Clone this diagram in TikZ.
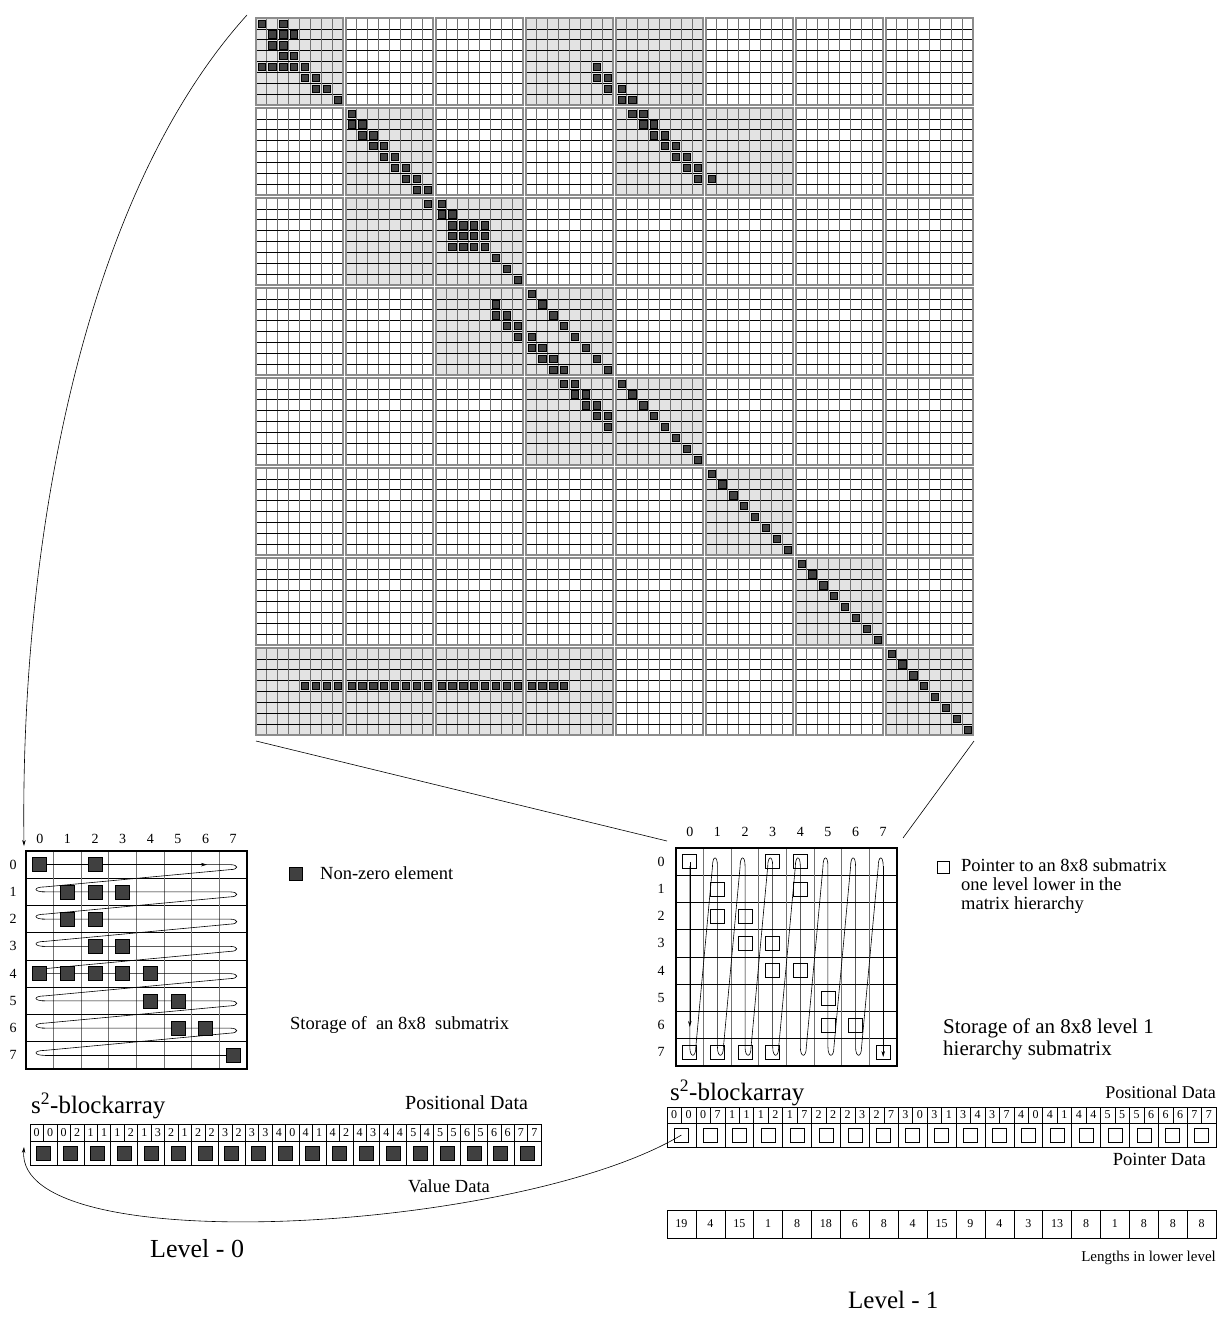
\documentclass[tikz,border=0pt]{standalone}
\usepackage{fontspec}
\setmainfont{Liberation Serif}
\usetikzlibrary{arrows.meta}

\begin{document}
\begin{tikzpicture}[x=1pt,y=-1pt,
	hline/.style={black, line width=0.6pt},
	vline/.style={black!55, line width=0.9pt},
	blockframe/.style={black!45, line width=1.5pt},
	usedblock/.style={fill=black!11},
	nzbig/.style={fill=black!75, draw=black, line width=0.5pt},
	nz/.style={fill=black!75, draw=black, line width=0.7pt},
	ptrsq/.style={draw=black, line width=0.7pt, minimum size=14pt, inner sep=0pt},
	scanpath/.style={black, line width=0.6pt},
	arr/.style={-{Stealth[length=6pt,width=3.5pt]}},
	idx/.style={font=\fontsize{14}{16}\selectfont, inner sep=0pt},
	digit/.style={font=\fontsize{12}{14}\selectfont, inner sep=0pt},
	note/.style={font=\fontsize{18.5}{19}\selectfont, align=left, inner sep=0pt},
	datalbl/.style={font=\fontsize{18.5}{20}\selectfont, inner sep=0pt},
	bigtext/.style={font=\fontsize{25}{28}\selectfont, inner sep=0pt}]
	\useasboundingbox (0,0) rectangle (1222,1320);

	%draw the 64x64 matrix: used blocks
	\foreach \bi/\bj in {0/0,0/3,0/4,1/1,1/4,1/5,2/1,2/2,3/2,3/3,4/3,4/4,5/5,6/6,7/0,7/1,7/2,7/3,7/7}
		\fill[usedblock] ({256+90*\bj},{18+90*\bi}) rectangle +(87,87);
	%draw block grids
	\foreach \bi in {0,...,7}
		\foreach \bj in {0,...,7} {
			\foreach \k in {1,...,7} {
				\draw[hline] ({256+90*\bj},{18+90*\bi+10.875*\k}) -- +(87,0);
				\draw[vline] ({256+90*\bj+10.875*\k},{18+90*\bi}) -- +(0,87);
			}
			\draw[blockframe] ({256+90*\bj},{18+90*\bi}) rectangle +(87,87);
		}
	%draw non-zero elements
	\foreach \r/\c in {0/0,0/2,1/1,1/2,1/3,2/1,2/2,3/2,3/3,4/0,4/1,4/2,4/3,4/4,5/4,5/5,6/5,6/6,7/7,
		4/30,5/30,5/31,6/31,6/32,7/32,7/33,
		8/8,9/8,9/9,10/9,10/10,11/10,11/11,12/11,12/12,13/12,13/13,14/13,14/14,15/14,15/15,
		8/33,8/34,9/34,9/35,10/35,10/36,11/36,11/37,12/37,12/38,13/38,13/39,14/39,14/40,
		16/15,16/16,17/16,17/17,21/21,22/22,23/23,
		24/24,25/21,25/25,26/21,26/22,26/26,27/22,27/23,27/27,28/23,28/24,28/28,
		29/24,29/25,29/29,30/25,30/26,30/30,31/26,31/27,31/31,
		32/27,32/28,32/32,33/28,33/29,33/33,34/29,34/30,34/34,35/30,35/31,35/35,
		36/31,36/36,37/37,38/38,39/39}
		\filldraw[nzbig] ({256+90*int(\c/8)+10.875*(mod(\c,8)+0.5)-3.6},{18+90*int(\r/8)+10.875*(mod(\r,8)+0.5)-3.6}) rectangle +(7.2,7.2);
	\foreach \r in {18,19,20}
		\foreach \c in {17,...,20}
			\filldraw[nzbig] ({436+10.875*(\c-16+0.5)-3.6},{198+10.875*(\r-16+0.5)-3.6}) rectangle +(7.2,7.2);
	\foreach \r in {40,...,63}
		\filldraw[nzbig] ({256+90*int(\r/8)+10.875*(mod(\r,8)+0.5)-3.6},{18+90*int(\r/8)+10.875*(mod(\r,8)+0.5)-3.6}) rectangle +(7.2,7.2);
	\foreach \c in {4,...,27}
		\filldraw[nzbig] ({256+90*int(\c/8)+10.875*(mod(\c,8)+0.5)-3.6},{648+10.875*3.5-3.6}) rectangle +(7.2,7.2);

	%zoom lines
	\coordinate (bigtl) at (247,15);
	\coordinate (bigbl) at (256,741);
	\coordinate (bigbr) at (974,741);
	\coordinate (lmtop) at (24,846);
	\coordinate (rmtl) at (667,841);
	\coordinate (rmtr) at (903,838);
	\draw[arr, line width=0.6pt] (bigtl) .. controls (80,200) and (20,550) .. (lmtop);
	\draw[line width=0.6pt] (bigbl) -- (rmtl);
	\draw[line width=0.6pt] (bigbr) -- (rmtr);

	%draw level 0 submatrix
	\foreach \k in {1,...,7} {
		\draw[hline] (26,{851+27.25*\k}) -- (247,{851+27.25*\k});
		\draw[vline] ({26+27.625*\k},851) -- ({26+27.625*\k},1069);
	}
	\draw[line width=1.8pt] (26,851) rectangle (247,1069);
	\foreach \k in {0,...,7} {
		\node[idx] (lcol\k) at ({26+27.625*(\k+0.5)},839) {\k};
		\node[idx] (lrow\k) at (13,{851+27.25*(\k+0.5)}) {\k};
	}
	%row-wise scan
	\foreach \r in {0,...,6} {
		\pgfmathsetmacro\ya{851+27.25*(\r+0.5)}
		\pgfmathsetmacro\yb{851+27.25*(\r+1.5)}
		\draw[scanpath] (42,\ya) -- (230,\ya) .. controls (239,\ya) and (239,{\ya+5}) .. (230,{\ya+5})
			-- (45,{\yb-5}) .. controls (33,{\yb-5}) and (33,\yb) .. (45,\yb);
	}
	\draw[scanpath] (45,{851+27.25*7.5}) -- (233,{851+27.25*7.5});
	\draw[scanpath, arr] (40,{851+27.25*0.5}) -- (207,{851+27.25*0.5});
	\foreach \r/\c in {0/0,0/2,1/1,1/2,1/3,2/1,2/2,3/2,3/3,4/0,4/1,4/2,4/3,4/4,5/4,5/5,6/5,6/6,7/7}
		\filldraw[nz] ({26+27.625*(\c+0.5)-7},{851+27.25*(\r+0.5)-7}) rectangle +(14,14);
	%legend
	\filldraw[nz] (289,867) rectangle +(13,13);
	\node[note, anchor=west] (nzlegend) at (320,873.5) {Non-zero element};
	\node[note, anchor=west] (lcaption) at (290,1025) {Storage of~~an 8x8~~submatrix};

	%draw level 1 submatrix
	\foreach \k in {1,...,7} {
		\draw[hline] (676,{848+27.25*\k}) -- (897,{848+27.25*\k});
		\draw[vline] ({676+27.625*\k},848) -- ({676+27.625*\k},1066);
	}
	\draw[line width=1.8pt] (676,848) rectangle (897,1066);
	\foreach \k in {0,...,7} {
		\node[idx] (rcol\k) at ({676+27.625*(\k+0.5)},832) {\k};
		\node[idx] (rrow\k) at (661,{848+27.25*(\k+0.5)}) {\k};
	}
	%column-wise scan
	\foreach \c in {0,...,6} {
		\pgfmathsetmacro\xa{676+27.625*(\c+0.5)}
		\pgfmathsetmacro\xb{676+27.625*(\c+1.5)}
		\draw[scanpath] (\xa,866) -- (\xa,1047) .. controls (\xa,1058) and ({\xa+6},1058) .. ({\xa+6},1047)
			-- ({\xb-5},867) .. controls ({\xb-5},855) and (\xb,855) .. (\xb,866);
	}
	\draw[scanpath, arr] ({676+27.625*0.5},862) -- ({676+27.625*0.5},1027);
	\draw[scanpath, arr] ({676+27.625*7.5},866) -- ({676+27.625*7.5},1057);
	\foreach \r/\c in {0/0,0/3,0/4,1/1,1/4,2/1,2/2,3/2,3/3,4/3,4/4,5/5,6/5,6/6,7/0,7/1,7/2,7/3,7/7}
		\draw[line width=0.7pt] ({676+27.625*(\c+0.5)-7},{848+27.25*(\r+0.5)-7}) rectangle +(14,14);
	%legend
	\draw[line width=0.7pt] (937,861) rectangle +(12,12);
	\node[note, anchor=north west] (ptrlegend) at (961,858) {Pointer to an 8x8 submatrix\\one level lower in the\\matrix hierarchy};
	\node[note, anchor=north west, font=\fontsize{21}{21}\selectfont] (rcaption) at (943,1019) {Storage of an 8x8 level 1\\hierarchy submatrix};

	%level 0 blockarray
	\node[bigtext, anchor=west] (lbatitle) at (31,1106) {s\textsuperscript{2}-blockarray};
	\node[datalbl, anchor=west, font=\fontsize{20}{22}\selectfont] (lpos) at (405,1103) {Positional Data};
	\draw[line width=0.6pt] (30,1124) rectangle (541,1165);
	\draw[line width=0.6pt] (30,1141) -- (541,1141);
	\foreach \a/\b [count=\i from 0] in {0/0,0/2,1/1,1/2,1/3,2/1,2/2,3/2,3/3,4/0,4/1,4/2,4/3,4/4,5/4,5/5,6/5,6/6,7/7} {
		\pgfmathsetmacro\xl{30+26.9*\i}
		\draw[line width=0.6pt] (\xl,1124) -- (\xl,1165);
		\draw[line width=0.5pt] ({\xl+13.45},1124) -- ({\xl+13.45},1141);
		\node[digit] (lpa\i) at ({\xl+6.7},1132.5) {\a};
		\node[digit] (lpb\i) at ({\xl+20.2},1132.5) {\b};
		\filldraw[nz] ({\xl+6.45},1146) rectangle +(14,14);
	}
	\node[datalbl, anchor=west] (lval) at (408,1186) {Value Data};
	\node[bigtext, anchor=west, font=\fontsize{26}{28}\selectfont] (lev0) at (150,1249) {Level - 0};

	%level 1 blockarray
	\node[bigtext, anchor=west] (rbatitle) at (670,1093) {s\textsuperscript{2}-blockarray};
	\node[datalbl, anchor=east, font=\fontsize{18}{20}\selectfont] (rpos) at (1216,1092) {Positional Data};
	\draw[line width=0.6pt] (667,1107) rectangle (1216,1147);
	\draw[line width=0.6pt] (667,1123) -- (1216,1123);
	\foreach \a/\b [count=\i from 0] in {0/0,0/7,1/1,1/2,1/7,2/2,2/3,2/7,3/0,3/1,3/4,3/7,4/0,4/1,4/4,5/5,5/6,6/6,7/7} {
		\pgfmathsetmacro\xl{667+28.9*\i}
		\draw[line width=0.6pt] (\xl,1107) -- (\xl,1147);
		\draw[line width=0.5pt] ({\xl+14.45},1107) -- ({\xl+14.45},1123);
		\node[digit] (rpa\i) at ({\xl+7.2},1115) {\a};
		\node[digit] (rpb\i) at ({\xl+21.7},1115) {\b};
		\node[ptrsq] (ptr\i) at ({\xl+14.45},1135) {};
	}
	\node[datalbl, anchor=east] (rptr) at (1206,1159) {Pointer Data};
	%lengths
	\draw[line width=0.6pt] (667,1210) rectangle (1216,1238);
	\foreach \v [count=\i from 0] in {19,4,15,1,8,18,6,8,4,15,9,4,3,13,8,1,8,8,8} {
		\pgfmathsetmacro\xl{667+28.9*\i}
		\draw[line width=0.6pt] (\xl,1210) -- (\xl,1238);
		\node[digit] (len\i) at ({\xl+14.45},1224) {\v};
	}
	\node[datalbl, anchor=east, font=\fontsize{15}{17}\selectfont] (rlen) at (1216,1258) {Lengths in lower level};
	\node[bigtext, anchor=west] (lev1) at (848,1300) {Level - 1};

	%pointer into level 0
	\coordinate (lvtip) at (24,1147);
	\draw[arr, line width=0.6pt] (ptr0.center) .. controls (520,1232) and (15,1262) .. (lvtip);
\end{tikzpicture}
\end{document}
